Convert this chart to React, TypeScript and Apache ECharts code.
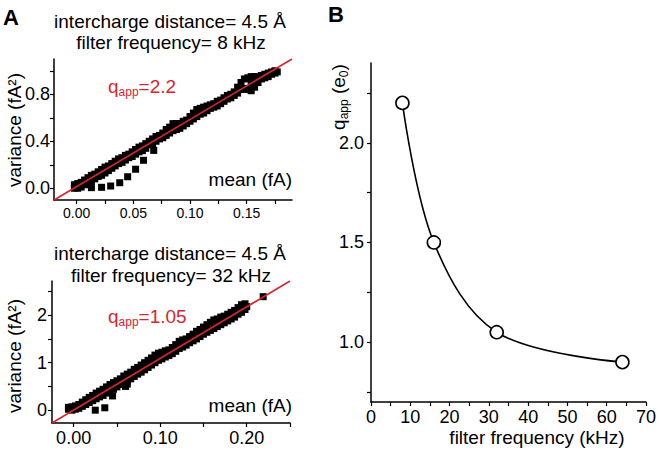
import React, { useEffect, useRef } from "react";
import * as echarts from "echarts";

// ---------- Panel A (top): 8 kHz ----------
const topXTicks = [0, 0.025, 0.05, 0.075, 0.1, 0.125, 0.15, 0.175];
const topXLabels = [0, 0.05, 0.1, 0.15];
const topYTicks = [0, 0.2, 0.4, 0.6, 0.8, 1.0];
const topYLabels = [0, 0.4, 0.8];
const topFit = [[-0.02, -0.1], [0.19, 1.1]];
const topPoints = [
  [-0.002, 0.0], [-0.002, 0.03], [0.001, 0.0], [0.001, 0.04], [0.001, 0.02],
  [0.004, 0.01], [0.004, 0.05], [0.007, 0.03], [0.007, 0.07], [0.01, 0.04], [0.01, 0.09],
  [0.013, 0.06], [0.013, 0.11], [0.016, 0.08], [0.016, 0.12], [0.019, 0.1], [0.019, 0.14],
  [0.022, 0.11], [0.022, 0.16], [0.025, 0.13], [0.025, 0.18], [0.028, 0.15], [0.028, 0.19],
  [0.031, 0.17], [0.031, 0.21], [0.034, 0.19], [0.034, 0.23], [0.037, 0.21], [0.037, 0.25],
  [0.04, 0.22], [0.04, 0.26], [0.043, 0.24], [0.043, 0.28], [0.046, 0.26], [0.046, 0.29],
  [0.049, 0.27], [0.049, 0.31], [0.052, 0.29], [0.052, 0.33], [0.055, 0.31], [0.055, 0.35],
  [0.058, 0.32], [0.058, 0.36], [0.061, 0.34], [0.061, 0.38], [0.064, 0.37], [0.064, 0.4],
  [0.067, 0.38], [0.067, 0.42], [0.07, 0.4], [0.07, 0.44], [0.073, 0.42], [0.073, 0.45],
  [0.076, 0.43], [0.076, 0.47], [0.079, 0.45], [0.079, 0.5], [0.082, 0.47], [0.082, 0.52],
  [0.085, 0.49], [0.085, 0.55], [0.088, 0.5], [0.088, 0.55], [0.091, 0.51], [0.091, 0.55],
  [0.094, 0.53], [0.094, 0.57], [0.097, 0.55], [0.097, 0.58], [0.1, 0.57], [0.1, 0.61],
  [0.103, 0.59], [0.103, 0.64], [0.106, 0.61], [0.106, 0.67], [0.109, 0.63], [0.109, 0.68],
  [0.112, 0.64], [0.112, 0.69], [0.115, 0.66], [0.115, 0.7], [0.118, 0.68], [0.118, 0.71],
  [0.121, 0.69], [0.121, 0.72], [0.124, 0.7], [0.124, 0.74], [0.127, 0.72], [0.127, 0.75],
  [0.13, 0.74], [0.13, 0.77], [0.133, 0.76], [0.133, 0.79], [0.136, 0.77], [0.136, 0.8],
  [0.139, 0.79], [0.139, 0.82], [0.142, 0.81], [0.142, 0.86], [0.145, 0.84], [0.145, 0.9],
  [0.148, 0.85], [0.148, 0.93], [0.151, 0.84], [0.151, 0.94], [0.154, 0.83], [0.154, 0.95],
  [0.154, 0.9], [0.157, 0.86], [0.157, 0.95], [0.16, 0.9], [0.16, 0.95], [0.163, 0.93],
  [0.163, 0.96], [0.166, 0.94], [0.166, 0.97], [0.169, 0.95], [0.169, 0.98], [0.172, 0.97],
  [0.172, 0.99], [0.175, 0.98], [0.175, 1.0], [0.177, 0.99],
  [0.013, 0.005], [0.022, 0.008], [0.03, 0.019], [0.038, 0.047], [0.045, 0.098],
  [0.052, 0.162], [0.059, 0.238], [0.068, 0.322],
];

// ---------- Panel A (bottom): 32 kHz ----------
const botXTicks = [0, 0.05, 0.1, 0.15, 0.2, 0.25];
const botXLabels = [0, 0.1, 0.2];
const botYTicks = [0, 0.5, 1, 1.5, 2, 2.5];
const botYLabels = [0, 1, 2];
const botFit = [[-0.025, -0.27], [0.25, 2.72]];
const botPoints = [
  [-0.006, 0.02], [-0.006, 0.06], [-0.002, 0.0], [-0.002, 0.07], [0.002, 0.02], [0.002, 0.09],
  [0.006, 0.04], [0.006, 0.12], [0.01, 0.08], [0.01, 0.17], [0.014, 0.12], [0.014, 0.22],
  [0.018, 0.16], [0.018, 0.27], [0.022, 0.2], [0.022, 0.31], [0.026, 0.24], [0.026, 0.36],
  [0.03, 0.28], [0.03, 0.4], [0.034, 0.31], [0.034, 0.44], [0.038, 0.36], [0.038, 0.49],
  [0.042, 0.4], [0.042, 0.54], [0.046, 0.44], [0.046, 0.58], [0.05, 0.49], [0.05, 0.62],
  [0.054, 0.54], [0.054, 0.66], [0.058, 0.58], [0.058, 0.72], [0.062, 0.62], [0.062, 0.76],
  [0.066, 0.66], [0.066, 0.8], [0.07, 0.71], [0.07, 0.86], [0.074, 0.76], [0.074, 0.9],
  [0.078, 0.8], [0.078, 0.95], [0.082, 0.85], [0.082, 1.0], [0.086, 0.9], [0.086, 1.05],
  [0.09, 0.95], [0.09, 1.1], [0.094, 1.0], [0.094, 1.16], [0.098, 1.05], [0.098, 1.2],
  [0.102, 1.08], [0.102, 1.22], [0.106, 1.12], [0.106, 1.25], [0.11, 1.15], [0.11, 1.27],
  [0.114, 1.19], [0.114, 1.32], [0.118, 1.24], [0.118, 1.38], [0.122, 1.3], [0.122, 1.45],
  [0.126, 1.33], [0.126, 1.48], [0.13, 1.37], [0.13, 1.5], [0.134, 1.42], [0.134, 1.55],
  [0.138, 1.46], [0.138, 1.6], [0.142, 1.5], [0.142, 1.66], [0.146, 1.55], [0.146, 1.7],
  [0.15, 1.6], [0.15, 1.75], [0.154, 1.64], [0.154, 1.8], [0.158, 1.68], [0.158, 1.85],
  [0.162, 1.72], [0.162, 1.9], [0.166, 1.76], [0.166, 1.92], [0.17, 1.8], [0.17, 1.96],
  [0.174, 1.84], [0.174, 1.98], [0.178, 1.88], [0.178, 2.02], [0.182, 1.92], [0.182, 2.06],
  [0.186, 1.96], [0.186, 2.1], [0.19, 2.02], [0.19, 2.16], [0.194, 2.06], [0.194, 2.22],
  [0.198, 2.12], [0.198, 2.24], [0.2, 2.18], [0.219, 2.39],
  [0.025, 0.0], [0.036, 0.05], [0.045, 0.3], [0.06, 0.5], [0.062, 0.55],
];

// ---------- Panel B ----------
const bFreq = [8, 16, 32, 64];
const bQapp = [2.2, 1.5, 1.05, 0.9];
const bXTicks = [0, 5, 10, 15, 20, 25, 30, 35, 40, 45, 50, 55, 60, 65, 70];
const bXLabels = [0, 10, 20, 30, 40, 50, 60, 70];
const bYTicks = [0.75, 1.0, 1.25, 1.5, 1.75, 2.0, 2.25];
const bYLabels = [1.0, 1.5, 2.0];

const FONT = "'Liberation Sans', Arial, Helvetica, sans-serif";
const RED = "#d7262b";
const BLACK = "#000";

function valueAxis(opts: any) {
  const { gridIndex, min, max, ticks, labels, digits, fontSize, margin } = opts;
  return {
    type: "value",
    gridIndex,
    min,
    max,
    splitLine: { show: false },
    axisLine: { show: true, onZero: false, lineStyle: { color: BLACK, width: 1.5 } },
    axisTick: { show: true, inside: false, length: 4, customValues: ticks, lineStyle: { color: BLACK, width: 1.2 } },
    axisLabel: {
      show: true,
      customValues: labels,
      margin,
      color: BLACK,
      fontSize,
      fontFamily: FONT,
      formatter: (v: number) => v.toFixed(digits),
    },
  };
}

export default function App() {
  const ref = useRef<HTMLDivElement>(null);
  useEffect(() => {
    if (!ref.current) return;
    document.body.style.margin = "0";
    const chart = echarts.init(ref.current, null, { renderer: "svg" });
    const sub = (size: number) => ({ fontSize: size, fontFamily: FONT });
    const option: any = {
      animation: false,
      backgroundColor: "#fff",
      grid: [
        { left: 54, top: 59, width: 238, height: 141 },
        { left: 52, top: 281, width: 238, height: 142 },
        { left: 371, top: 63, width: 275, height: 339 },
      ],
      xAxis: [
        valueAxis({ gridIndex: 0, min: -0.02, max: 0.19, ticks: topXTicks, labels: topXLabels, digits: 2, fontSize: 14, margin: 6 }),
        valueAxis({ gridIndex: 1, min: -0.025, max: 0.25, ticks: botXTicks, labels: botXLabels, digits: 2, fontSize: 18, margin: 6 }),
        valueAxis({ gridIndex: 2, min: 0, max: 70, ticks: bXTicks, labels: bXLabels, digits: 0, fontSize: 18, margin: 6 }),
      ],
      yAxis: [
        valueAxis({ gridIndex: 0, min: -0.1, max: 1.1, ticks: topYTicks, labels: topYLabels, digits: 1, fontSize: 18, margin: 4 }),
        valueAxis({ gridIndex: 1, min: -0.27, max: 2.72, ticks: botYTicks, labels: botYLabels, digits: 0, fontSize: 18, margin: 5 }),
        valueAxis({ gridIndex: 2, min: 0.7, max: 2.4, ticks: bYTicks, labels: bYLabels, digits: 1, fontSize: 18, margin: 7 }),
      ],
      series: [
        {
          type: "scatter", xAxisIndex: 0, yAxisIndex: 0, data: topPoints,
          symbol: "rect", symbolSize: 7, itemStyle: { color: BLACK, opacity: 1 }, silent: true,
        },
        {
          type: "line", xAxisIndex: 0, yAxisIndex: 0, data: topFit, showSymbol: false,
          lineStyle: { color: RED, width: 1.6 }, silent: true, z: 5,
        },
        {
          type: "scatter", xAxisIndex: 1, yAxisIndex: 1, data: botPoints,
          symbol: "rect", symbolSize: 7, itemStyle: { color: BLACK, opacity: 1 }, silent: true,
        },
        {
          type: "line", xAxisIndex: 1, yAxisIndex: 1, data: botFit, showSymbol: false,
          lineStyle: { color: RED, width: 1.6 }, silent: true, z: 5,
        },
        {
          type: "line", xAxisIndex: 2, yAxisIndex: 2,
          data: bFreq.map((f, i) => [f, bQapp[i]]),
          smooth: 0.35,
          symbol: "circle", symbolSize: 13, showSymbol: true,
          lineStyle: { color: BLACK, width: 1.6 },
          itemStyle: { color: "#fff", borderColor: BLACK, borderWidth: 1.6, opacity: 1 },
          silent: true, z: 5,
        },
      ],
      graphic: [
        { type: "text", left: 3, top: 6, style: { text: "A", fontSize: 22, fontWeight: "bold", fontFamily: FONT, fill: BLACK } },
        { type: "text", left: 328, top: 3, style: { text: "B", fontSize: 22, fontWeight: "bold", fontFamily: FONT, fill: BLACK } },
        { type: "text", x: 170, y: 21, style: { text: "intercharge distance= 4.5 Å", fontSize: 19, fontFamily: FONT, fill: BLACK, align: "center", verticalAlign: "middle" } },
        { type: "text", x: 171, y: 42, style: { text: "filter frequency= 8 kHz", fontSize: 19, fontFamily: FONT, fill: BLACK, align: "center", verticalAlign: "middle" } },
        { type: "text", x: 170, y: 253, style: { text: "intercharge distance= 4.5 Å", fontSize: 19, fontFamily: FONT, fill: BLACK, align: "center", verticalAlign: "middle" } },
        { type: "text", x: 171, y: 275, style: { text: "filter frequency= 32 kHz", fontSize: 19, fontFamily: FONT, fill: BLACK, align: "center", verticalAlign: "middle" } },
        { type: "text", x: 292, y: 179, style: { text: "mean (fA)", fontSize: 19, fontFamily: FONT, fill: BLACK, align: "right", verticalAlign: "middle" } },
        { type: "text", x: 292, y: 405, style: { text: "mean (fA)", fontSize: 19, fontFamily: FONT, fill: BLACK, align: "right", verticalAlign: "middle" } },
        { type: "text", x: 14, y: 130, rotation: Math.PI / 2, style: { text: "variance (fA²)", fontSize: 19, fontFamily: FONT, fill: BLACK, align: "center", verticalAlign: "middle" } },
        { type: "text", x: 14, y: 356, rotation: Math.PI / 2, style: { text: "variance (fA²)", fontSize: 19, fontFamily: FONT, fill: BLACK, align: "center", verticalAlign: "middle" } },
        {
          type: "text", x: 108, y: 86,
          style: {
            text: "{q|q}{s|app}{q|=2.2}", align: "left", verticalAlign: "middle", fill: RED,
            rich: { q: { ...sub(19), fill: RED, lineHeight: 24 }, s: { ...sub(12), fill: RED, verticalAlign: "bottom" } },
          },
        },
        {
          type: "text", x: 108, y: 316,
          style: {
            text: "{q|q}{s|app}{q|=1.05}", align: "left", verticalAlign: "middle", fill: RED,
            rich: { q: { ...sub(19), fill: RED, lineHeight: 24 }, s: { ...sub(12), fill: RED, verticalAlign: "bottom" } },
          },
        },
        {
          type: "text", x: 338, y: 97, rotation: Math.PI / 2,
          style: {
            text: "{q|q}{s|app}{q| (e}{s|0}{q|)}", align: "center", verticalAlign: "middle", fill: BLACK,
            rich: { q: { ...sub(19), fill: BLACK, lineHeight: 24 }, s: { ...sub(12), fill: BLACK, verticalAlign: "bottom" } },
          },
        },
        { type: "text", x: 537, y: 437, style: { text: "filter frequency (kHz)", fontSize: 19, fontFamily: FONT, fill: BLACK, align: "center", verticalAlign: "middle" } },
      ],
    };
    chart.setOption(option);
    return () => chart.dispose();
  }, []);
  return <div ref={ref} style={{ width: 660, height: 451 }} />;
}
